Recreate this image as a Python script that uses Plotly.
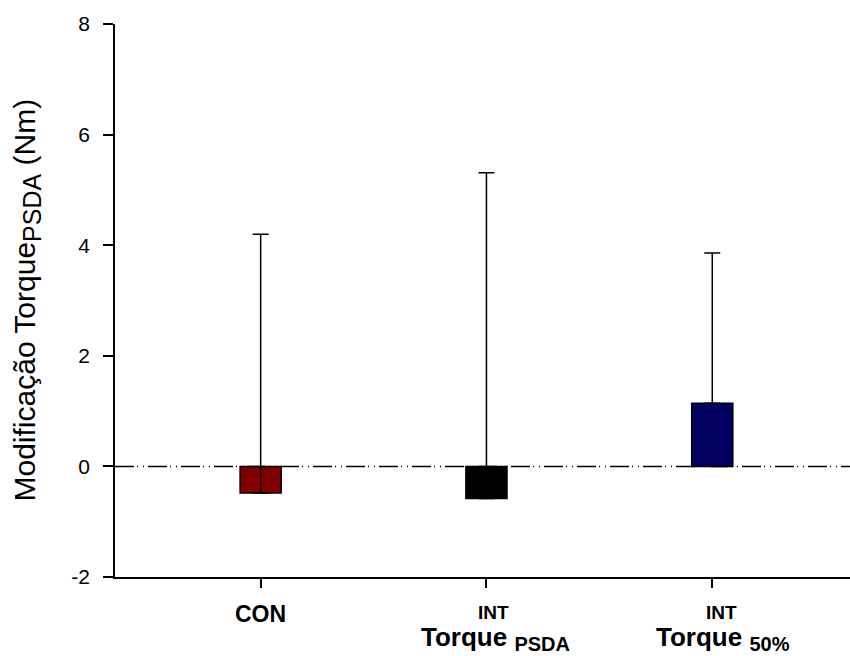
import plotly.graph_objects as go

# Data
groups = ["CON", "INT Torque PSDA", "INT Torque 50%"]
positions = [1, 2, 3]
means = [-0.48, -0.58, 1.14]
upper_ends = [4.20, 5.31, 3.86]
err_plus = [u - m for u, m in zip(upper_ends, means)]
bar_colors = ["#800000", "#000000", "#000060"]
y_ticks = [-2, 0, 2, 4, 6, 8]
y_ticktext = ["-2", "0", "2", "4", "6", "8"]

fig = go.Figure()
fig.add_trace(go.Bar(
    x=positions, y=means, width=0.182,
    marker=dict(color=bar_colors, line=dict(color="black", width=1.5)),
    error_y=dict(type="data", symmetric=False, array=err_plus,
                 arrayminus=[0, 0, 0], color="black", thickness=1.5, width=8),
    showlegend=False,
))

# dash-dot reference line at zero
fig.add_shape(type="line", xref="paper", x0=0, x1=1, yref="y", y0=0, y1=0,
              line=dict(color="black", width=1.5, dash="19px,3px,1px,5px,1px,4px"),
              layer="above")

regular = "Liberation Sans, Arial"

# x category labels
fig.add_annotation(x=1, xref="x", y=0, yref="paper", yshift=-37, yanchor="middle",
                   text="<b>CON</b>", showarrow=False,
                   font=dict(family=regular, size=23, color="black"))
for xpos, shift, sub in [(2, 9, "PSDA"), (3, 11, "50%")]:
    fig.add_annotation(x=xpos, xref="x", xshift=shift - 2, y=0, yref="paper", yshift=-35,
                       yanchor="middle", text="<b>INT</b>", showarrow=False,
                       font=dict(family=regular, size=19, color="black"))
    fig.add_annotation(x=xpos, xref="x", xshift=shift, y=0, yref="paper", yshift=-61,
                       yanchor="middle",
                       text="<b>Torque </b><sub><span style='font-size:20px'><b>" + sub + "</b></span></sub>",
                       showarrow=False,
                       font=dict(family=regular, size=26, color="black"))

# y title
fig.add_annotation(x=0, xref="paper", xshift=-89, y=0.5, yref="paper",
                   xanchor="center", yanchor="middle", textangle=-90,
                   text="Modificação Torque<sub><span style='font-size:25px'>PSDA</span></sub> (Nm)",
                   showarrow=False,
                   font=dict(family=regular, size=30, color="black"))

fig.update_layout(
    width=850, height=656,
    margin=dict(l=115, r=0, t=24, b=79),
    plot_bgcolor="white", paper_bgcolor="white",
    xaxis=dict(range=[0.355, 3.61], tickvals=positions, showticklabels=False,
               showgrid=False, zeroline=False, showline=True, linecolor="black",
               linewidth=1.5, ticks="outside", ticklen=9, tickwidth=1.5,
               tickcolor="black"),
    yaxis=dict(range=[-2, 8], tickvals=y_ticks, ticktext=y_ticktext,
               showgrid=False, zeroline=False,
               showline=True, linecolor="black", linewidth=1.5, ticks="outside",
               ticklen=10, tickwidth=1.5, tickcolor="black", ticklabelstandoff=9,
               tickfont=dict(family=regular, size=21, color="black")),
)

fig.write_html("out.html")
